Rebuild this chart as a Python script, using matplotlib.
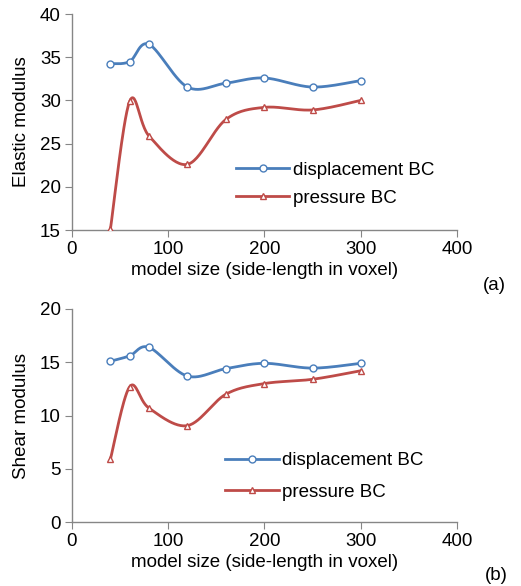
import numpy as np
import matplotlib
matplotlib.use("Agg")
import matplotlib.pyplot as plt

plt.rcParams["font.family"] = ["Liberation Sans", "DejaVu Sans"]

# model sizes (side-length in voxel)
sizes = [40, 60, 80, 120, 160, 200, 250, 300]

# (a) elastic modulus
elastic_disp = [34.25, 34.5, 36.5, 31.55, 32.0, 32.6, 31.55, 32.3]
elastic_pres = [15.1, 29.9, 25.9, 22.6, 27.8, 29.2, 28.9, 30.0]

# (b) shear modulus
shear_disp = [15.1, 15.6, 16.4, 13.7, 14.4, 14.9, 14.45, 14.9]
shear_pres = [5.9, 12.7, 10.7, 9.05, 12.0, 13.0, 13.4, 14.2]

BLUE = "#4a7ebb"
RED = "#be4b48"
GRAY = "#868686"
FS = 13.5


def smooth(x, y, n=30):
    """Excel-style smoothed line (Bezier through the points)"""
    p = np.column_stack([x, y]).astype(float)
    pts = np.vstack([p[0], p, p[-1]])
    t = np.linspace(0, 1, n)[:, None]
    out = []
    for i in range(1, len(pts) - 2):
        p0, p1 = pts[i], pts[i + 1]
        c1 = p0 + (pts[i + 1] - pts[i - 1]) / 6
        c2 = p1 - (pts[i + 2] - pts[i]) / 6
        seg = ((1 - t) ** 3) * p0 + 3 * ((1 - t) ** 2) * t * c1 + 3 * (1 - t) * t**2 * c2 + t**3 * p1
        out.append(seg if i == 1 else seg[1:])
    out = np.vstack(out)
    return out[:, 0], out[:, 1]


def draw(ax, disp, pres, ylim, yticks, ylabel, leg_anchor, spacing):
    for vals, color, marker, label in [(disp, BLUE, "o", "displacement BC"), (pres, RED, "^", "pressure BC")]:
        sx, sy = smooth(sizes, vals)
        ax.plot(sx, sy, color=color, lw=2, zorder=2)
        ax.plot(sizes, vals, ls="none", marker=marker, ms=5, mfc="white", mec=color, mew=1, zorder=3)
        ax.plot([], [], color=color, lw=2, marker=marker, ms=5, mfc="white", mec=color, mew=1, label=label)
    ax.set_xlim(0, 400)
    ax.set_ylim(*ylim)
    ax.set_xticks([0, 100, 200, 300, 400])
    ax.set_yticks(yticks)
    ax.set_ylabel(ylabel, fontsize=FS, labelpad=7)
    ax.set_xlabel("model size (side-length in voxel)", fontsize=FS, labelpad=3)
    for s in ["top", "right"]:
        ax.spines[s].set_visible(False)
    for s in ["left", "bottom"]:
        ax.spines[s].set_color(GRAY)
        ax.spines[s].set_linewidth(1)
    ax.tick_params(direction="out", length=5, color=GRAY, labelsize=FS, pad=3)
    ax.legend(loc="upper left", bbox_to_anchor=leg_anchor, frameon=False, fontsize=FS,
              handlelength=2.85, handletextpad=0.2, labelspacing=spacing, borderpad=0, borderaxespad=0)


fig = plt.figure(figsize=(5.21, 5.86), dpi=100)
ax1 = fig.add_axes([0.138, 0.6075, 0.739, 0.3685])
ax2 = fig.add_axes([0.138, 0.1092, 0.739, 0.3635])

draw(ax1, elastic_disp, elastic_pres, (15, 40), [15, 20, 25, 30, 35, 40], "Elastic modulus", (0.426, 0.316), 0.58)
draw(ax2, shear_disp, shear_pres, (0, 20), [0, 5, 10, 15, 20], "Shear modulus", (0.398, 0.327), 0.75)

fig.text(0.948, 0.512, "(a)", fontsize=FS, ha="center", va="center")
fig.text(0.952, 0.018, "(b)", fontsize=FS, ha="center", va="center")

fig.savefig("out.png", dpi=100)
